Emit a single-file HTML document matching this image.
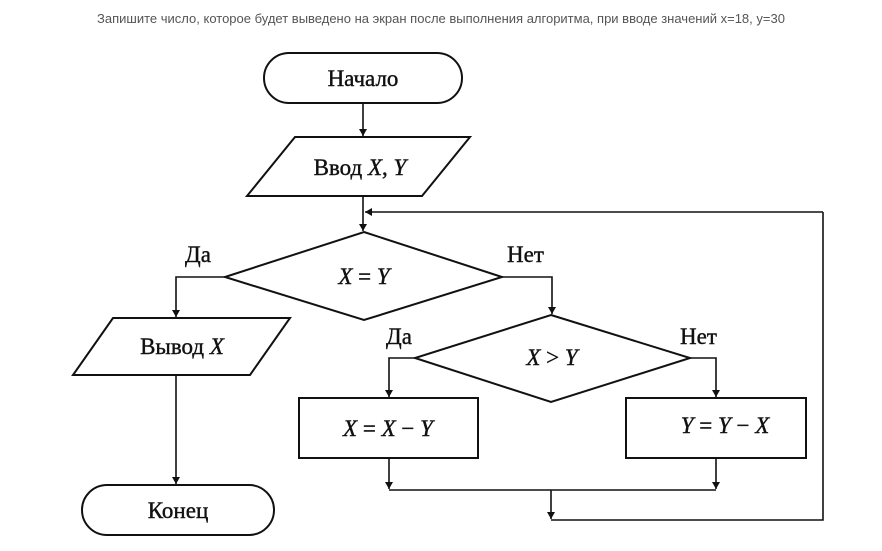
<!DOCTYPE html>
<html><head><meta charset="utf-8"><style>
html,body{margin:0;padding:0;background:#fff;}
svg{display:block;}
.t{font-family:"Liberation Serif",serif;font-size:23px;fill:#111;stroke:#111;stroke-width:0.4;}
.i{font-style:italic;}
</style></head><body>
<svg width="882" height="551" viewBox="0 0 882 551">
<defs><marker id="a" markerWidth="8" markerHeight="10" refX="7" refY="5" orient="auto" markerUnits="userSpaceOnUse"><path d="M0,1 L7,5 L0,9 Z" fill="#111"/></marker></defs>
<text x="441" y="23" text-anchor="middle" font-family="Liberation Sans, sans-serif" font-size="13" fill="#555">Запишите число, которое будет выведено на экран после выполнения алгоритма, при вводе значений x=18, y=30</text>
<g stroke="#111" stroke-width="2" fill="none">
<rect x="264" y="53" width="198" height="50" rx="25"/>
<polygon points="295,137 470,137 422,196 247,196"/>
<polygon points="364,232 502,277 364,320 225,277"/>
<polygon points="551,315 690,358 551,402 415,358"/>
<polygon points="113,318 290,318 250,375 73,375"/>
<rect x="299" y="398" width="179" height="60"/>
<rect x="626" y="398" width="180" height="60"/>
<rect x="82" y="485" width="192" height="50" rx="25"/>
</g>
<g stroke="#111" stroke-width="1.6" fill="none">
<line x1="363" y1="103" x2="363" y2="136" marker-end="url(#a)"/>
<line x1="363" y1="196" x2="363" y2="231" marker-end="url(#a)"/>
<polyline points="823,212 823,520 551,520" />
<line x1="823" y1="212" x2="365" y2="212" marker-end="url(#a)"/>
<polyline points="225,277 176,277 176,317" marker-end="url(#a)"/>
<polyline points="502,277 552,277 552,314" marker-end="url(#a)"/>
<polyline points="415,358 389,358 389,397" marker-end="url(#a)"/>
<polyline points="690,358 716,358 716,397" marker-end="url(#a)"/>
<line x1="389" y1="458" x2="389" y2="489" marker-end="url(#a)"/>
<line x1="716" y1="458" x2="716" y2="489" marker-end="url(#a)"/>
<line x1="389" y1="490" x2="716" y2="490"/>
<line x1="551" y1="490" x2="551" y2="519" marker-end="url(#a)"/>
<line x1="176" y1="375" x2="176" y2="484" marker-end="url(#a)"/>
</g>
<text class="t" x="363" y="86" text-anchor="middle">Начало</text>
<text class="t" x="360" y="175" text-anchor="middle">Ввод <tspan class="i">X</tspan>, <tspan class="i">Y</tspan></text>
<text class="t" x="364" y="284" text-anchor="middle"><tspan class="i">X</tspan> = <tspan class="i">Y</tspan></text>
<text class="t" x="552" y="365" text-anchor="middle"><tspan class="i">X</tspan> &gt; <tspan class="i">Y</tspan></text>
<text class="t" x="182" y="354" text-anchor="middle">Вывод <tspan class="i">X</tspan></text>
<text class="t" x="388" y="436" text-anchor="middle"><tspan class="i">X</tspan> = <tspan class="i">X</tspan> − <tspan class="i">Y</tspan></text>
<text class="t" x="725" y="433" text-anchor="middle"><tspan class="i">Y</tspan> = <tspan class="i">Y</tspan> − <tspan class="i">X</tspan></text>
<text class="t" x="178" y="518" text-anchor="middle">Конец</text>
<text class="t" x="185" y="262">Да</text>
<text class="t" x="507" y="262">Нет</text>
<text class="t" x="386" y="344">Да</text>
<text class="t" x="680" y="344">Нет</text>
</svg>
</body></html>
